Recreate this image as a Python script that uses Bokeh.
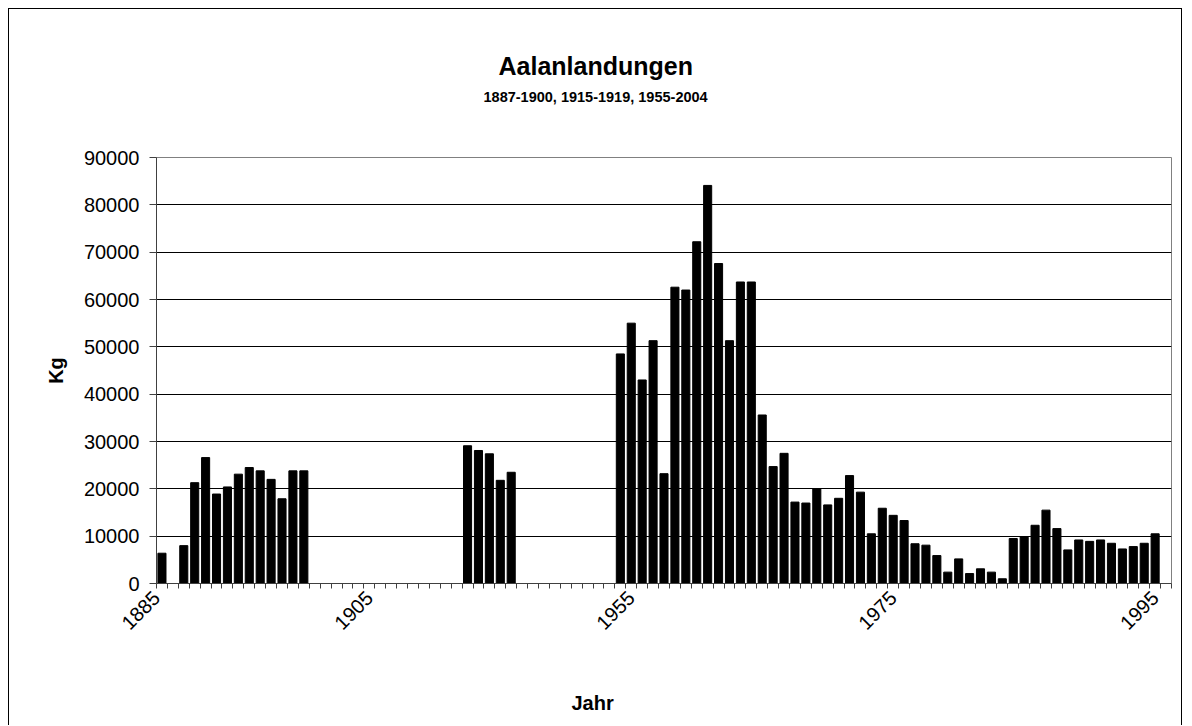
import math
from bokeh.plotting import figure
from bokeh.models import FixedTicker, Title, Range1d, ColumnDataSource
from bokeh.embed import file_html
from bokeh.resources import INLINE

# ---- data -------------------------------------------------------------
title_text = "Aalanlandungen"
subtitle_text = "1887-1900, 1915-1919, 1955-2004"
x_title = "Jahr"
y_title = "Kg"

# category slots on the axis (blank strings = empty slots)
categories = ([str(y) for y in range(1887, 1920)] + [""] * 9
              + [str(y) for y in range(1955, 2005)] + [""])

years_a = list(range(1887, 1901))
landings_a = [6400, None, 8000, 21300, 26600, 18900, 20400, 23100, 24500,
              23800, 22000, 17900, 23800, 23800]

years_b = list(range(1915, 1920))
landings_b = [29100, 28100, 27400, 21800, 23500]

years_c = list(range(1955, 2005))
landings_c = [48500, 55000, 43000, 51300, 23200, 62600, 62000, 72200, 84100,
              67600, 51300, 63700, 63700, 35600, 24700, 27500, 17200, 17000,
              20000, 16600, 18000, 22800, 19300, 10500, 15900, 14400, 13300,
              8400, 8100, 5900, 2400, 5200, 2100, 3100, 2400, 1000, 9500,
              9800, 12300, 15500, 11600, 7100, 9200, 8900, 9200, 8500, 7300,
              7800, 8500, 10500]

tick_labels = ["1885", "1905", "1955", "1975", "1995"]
tick_slots = [-1, 19, 43, 67, 91]

y_ticks = list(range(0, 90001, 10000))

# ---- build ------------------------------------------------------------
xs, tops = [], []
for yrs, vals in ((years_a, landings_a), (years_b, landings_b), (years_c, landings_c)):
    for yr, v in zip(yrs, vals):
        if v is None:
            continue
        xs.append(categories.index(str(yr)) + 0.5)
        tops.append(v)
src = ColumnDataSource(dict(x=xs, top=tops))

n = len(categories)
FONT = "Liberation Sans"

p = figure(width=1174, height=717, x_range=Range1d(0, n), y_range=Range1d(0, 90000),
           output_backend="svg", toolbar_location=None, title=None,
           min_border_left=147, min_border_right=12, min_border_top=148,
           min_border_bottom=143)
p.styles = {"border-top": "1px solid black", "border-left": "1px solid black",
            "border-right": "1px solid black", "margin-left": "8px", "margin-top": "8px"}
p.background_fill_color = "white"
p.border_fill_color = "white"
p.outline_line_color = "#808080"
p.outline_line_width = 1

p.vbar(x="x", top="top", width=0.74, source=src, fill_color="black",
       line_color="black", line_width=1)

# grid
p.xgrid.visible = False
p.ygrid.ticker = FixedTicker(ticks=y_ticks)
p.ygrid.grid_line_color = "black"
p.ygrid.grid_line_width = 1

# y axis
p.yaxis.ticker = FixedTicker(ticks=y_ticks)
p.yaxis.major_tick_out = 7
p.yaxis.major_tick_in = 0
p.yaxis.minor_tick_out = 0
p.yaxis.minor_tick_in = 0
p.yaxis.axis_line_color = "#404040"
p.yaxis.major_tick_line_color = "#404040"
p.yaxis.major_label_text_font = FONT
p.yaxis.major_label_text_font_size = "20px"
p.yaxis.major_label_text_color = "black"
p.yaxis.major_label_standoff = 10
p.yaxis.axis_label = y_title
p.yaxis.axis_label_text_font = FONT
p.yaxis.axis_label_text_font_size = "20px"
p.yaxis.axis_label_text_font_style = "bold"
p.yaxis.axis_label_text_color = "black"
p.yaxis.axis_label_standoff = 14

# x axis
tick_pos = [max(0.0, s + 0.5) for s in tick_slots]
p.xaxis.ticker = FixedTicker(ticks=tick_pos, minor_ticks=list(range(0, n + 1)))
p.xaxis.major_label_overrides = {float(t): lab for t, lab in zip(tick_pos, tick_labels)}
p.xaxis.major_label_orientation = math.pi / 4
p.xaxis.major_tick_out = 0
p.xaxis.major_tick_in = 0
p.xaxis.minor_tick_out = 5
p.xaxis.minor_tick_in = 0
p.xaxis.minor_tick_line_color = "#404040"
p.xaxis.axis_line_color = "#404040"
p.xaxis.major_label_text_font = FONT
p.xaxis.major_label_text_font_size = "20px"
p.xaxis.major_label_text_color = "black"
p.xaxis.major_label_standoff = 6

# titles (stacked outward from the frame; blank titles act as spacers)
top_spacer = Title(text=" ", text_font=FONT, text_font_size="10px", standoff=36)
sub = Title(text=subtitle_text, align="left", offset=327, text_font=FONT,
            text_font_size="14.5px", text_font_style="bold", text_color="black",
            standoff=8)
main = Title(text=title_text, align="left", offset=342, text_font=FONT,
             text_font_size="25px", text_font_style="bold", text_color="black",
             standoff=6)
p.add_layout(top_spacer, "above")
p.add_layout(sub, "above")
p.add_layout(main, "above")

bottom_spacer = Title(text=" ", text_font=FONT, text_font_size="10px", standoff=38)
jahr = Title(text=x_title, align="left", offset=415, text_font=FONT,
             text_font_size="20px", text_font_style="bold", text_color="black",
             standoff=0)
p.add_layout(bottom_spacer, "below")
p.add_layout(jahr, "below")

open("out.html", "w").write(file_html(p, INLINE))
